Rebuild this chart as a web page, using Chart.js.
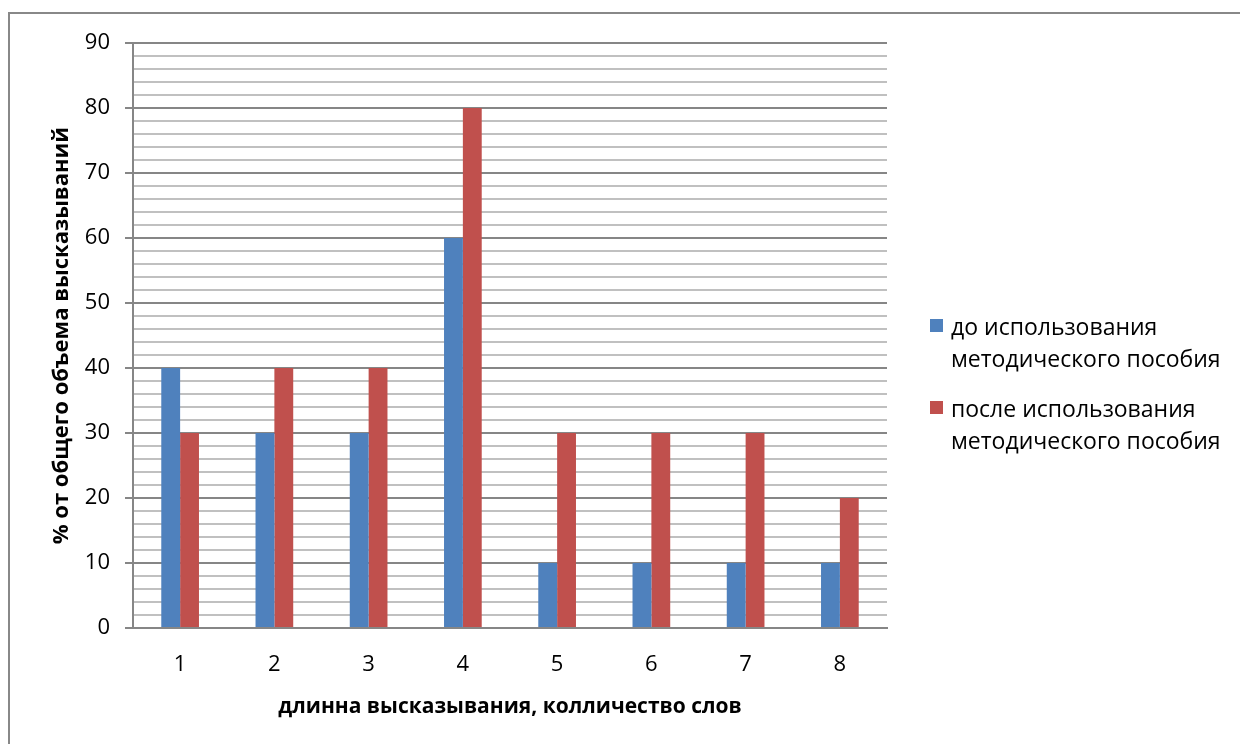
<!DOCTYPE html>
<html>
<head>
<meta charset="utf-8">
<script src="https://cdn.jsdelivr.net/npm/chart.js@4/dist/chart.umd.min.js"></script>
<style>
  html, body { margin: 0; padding: 0; background: #fff; }
  #wrap { position: relative; width: 1240px; height: 744px; overflow: hidden; }
  #frame { position: absolute; left: 8px; top: 12px; width: 1300px; height: 800px; border: 2px solid #888; box-sizing: border-box; }
  #legend { position: absolute; left: 930px; top: 310px; font-family: "Open Sans", sans-serif; font-size: 23px; color: #000; }
  .item { position: relative; padding-left: 21px; line-height: 32px; margin-bottom: 18px; white-space: nowrap; }
  .box { position: absolute; left: 0; top: 9px; width: 13px; height: 13px; }
</style>
</head>
<body>
<div id="wrap">
  <div id="frame"></div>
  <canvas id="chart" width="1240" height="744"></canvas>
  <div id="legend"></div>
</div>
<script>
"use strict";

var categories = ['1', '2', '3', '4', '5', '6', '7', '8'];
var beforeValues = [40, 30, 30, 60, 10, 10, 10, 10];
var afterValues = [30, 40, 40, 80, 30, 30, 30, 20];
var seriesNames = ['до использования методического пособия', 'после использования методического пособия'];
var legendLines = [['до использования', 'методического пособия'], ['после использования', 'методического пособия']];
var colors = ['#4f81bd', '#c0504d'];

var font = '"Open Sans", sans-serif';

var ctx = document.getElementById('chart').getContext('2d');
var chart = new Chart(ctx, {
    type: 'bar',
    data: {
        labels: categories,
        datasets: [{
            label: seriesNames[0],
            data: beforeValues,
            backgroundColor: colors[0],
            categoryPercentage: 0.4,
            barPercentage: 1.0
        }, {
            label: seriesNames[1],
            data: afterValues,
            backgroundColor: colors[1],
            categoryPercentage: 0.4,
            barPercentage: 1.0
        }]
    },
    options: {
        responsive: false,
        animation: false,
        layout: {
            padding: { left: 0, right: 353, top: 43, bottom: 20 }
        },
        plugins: {
            legend: { display: false },
            tooltip: { enabled: false }
        },
        scales: {
            x: {
                grid: { display: false },
                border: { color: '#868686', width: 2 },
                ticks: { color: '#000', font: { family: font, size: 22 }, padding: 16 },
                title: {
                    display: true,
                    text: 'длинна высказывания, колличество слов',
                    color: '#000',
                    font: { family: font, size: 21, weight: 'bold' },
                    padding: { top: 8 }
                },
                afterFit: function (scale) { scale.height = 96; }
            },
            y: {
                min: 0,
                max: 90,
                ticks: {
                    stepSize: 2,
                    color: '#000',
                    font: { family: font, size: 22 },
                    padding: 15,
                    autoSkip: false,
                    callback: function (v) { return v % 10 === 0 ? v : ''; }
                },
                grid: {
                    color: function (c) { return c.tick && c.tick.value % 10 === 0 ? '#868686' : '#c0c0c0'; },
                    tickColor: function (c) { return c.tick && c.tick.value % 10 === 0 ? '#868686' : 'rgba(0,0,0,0)'; },
                    tickLength: 8,
                    lineWidth: 2
                },
                border: { color: '#868686', width: 2 },
                title: {
                    display: true,
                    text: '% от общего объема высказываний',
                    color: '#000',
                    font: { family: font, size: 22, weight: 'bold' },
                    padding: { top: 49, bottom: 0 }
                },
                afterFit: function (scale) { scale.width = 133; }
            }
        }
    }
});

var legend = document.getElementById('legend');
for (var i = 0; i < legendLines.length; i++) {
    var item = document.createElement('div');
    item.className = 'item';
    var box = document.createElement('span');
    box.className = 'box';
    box.style.background = colors[i];
    item.appendChild(box);
    item.appendChild(document.createTextNode(legendLines[i][0]));
    item.appendChild(document.createElement('br'));
    item.appendChild(document.createTextNode(legendLines[i][1]));
    legend.appendChild(item);
}
</script>
</body>
</html>
